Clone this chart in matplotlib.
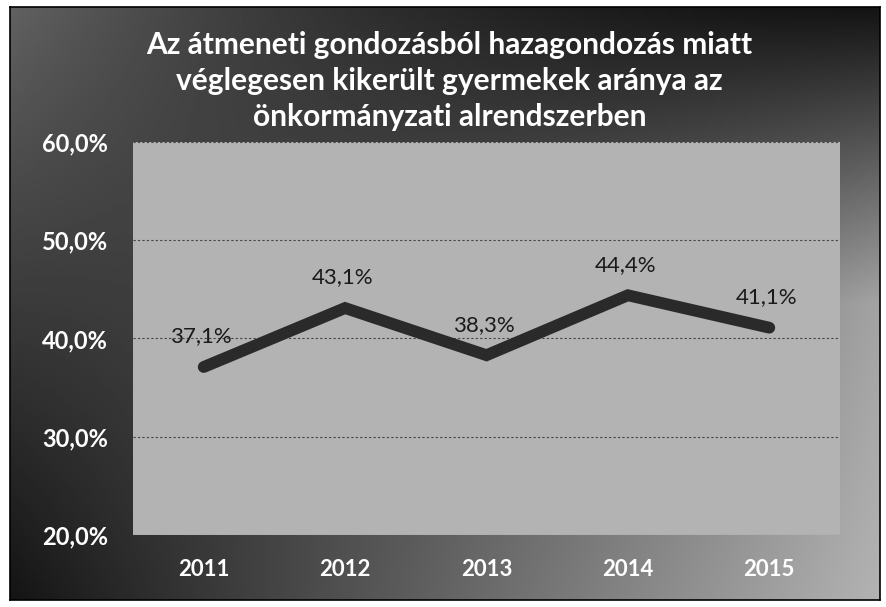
import numpy as np
import matplotlib
matplotlib.use("Agg")
import matplotlib.pyplot as plt

plt.rcParams['font.family'] = ['Lato', 'DejaVu Sans']

years = ['2011', '2012', '2013', '2014', '2015']
ratios = [37.1, 43.1, 38.3, 44.4, 41.1]
yticks = [20, 30, 40, 50, 60]
title = ('Az átmeneti gondozásból hazagondozás miatt\n'
         'véglegesen kikerült gyermekek aránya az\n'
         'önkormányzati alrendszerben')

fig = plt.figure(figsize=(8.87, 6.07), dpi=100)

# dark gradient background of the chart area
bg = fig.add_axes([10/887, 7/607, 870/887, 593/607])
u, v = np.meshgrid(np.linspace(0, 1, 300), np.linspace(0, 1, 200))
shade = 0.08 + 0.62*u*v + 0.3*(1-v)*(1-u)**2 + 0.25*u**2*(1-abs(2*v-1))
bg.imshow(shade, cmap='gray', vmin=0, vmax=1, aspect='auto', extent=[0, 1, 0, 1])
bg.set_xticks([])
bg.set_yticks([])
for s in bg.spines.values():
    s.set_color('black')
    s.set_linewidth(1.2)

ax = fig.add_axes([133/887, 72/607, 707/887, 393/607])
ax.set_facecolor('#b3b3b3')
x = np.arange(len(years))
ax.plot(x, ratios, color='#2a2a2a', lw=8.5, solid_capstyle='round', solid_joinstyle='miter', zorder=3)
for xi, r in zip(x, ratios):
    ax.annotate(f'{r:.1f}%'.replace('.', ','), (xi, r), xytext=(-2, 22), textcoords='offset points',
                ha='center', va='center', fontsize=16, color='#1a1a1a')
ax.set_xlim(-0.5, len(years) - 0.5)
ax.set_ylim(20, 60)
ax.set_yticks(yticks)
ax.set_yticklabels([f'{t},0%' for t in yticks], color='white', fontsize=17, fontweight='bold')
ax.set_xticks(x)
ax.set_xticklabels(years, color='white', fontsize=16, fontweight='bold')
ax.tick_params(length=0)
ax.tick_params(axis='y', pad=18)
ax.tick_params(axis='x', pad=17)
ax.grid(axis='y', color='#444444', ls=(0, (2, 2)), lw=0.8)
for s in ax.spines.values():
    s.set_visible(False)

fig.text(0.507, 1 - 81/607, title, ha='center', va='center', color='white', fontsize=21.5,
         fontweight='bold', linespacing=1.36)

fig.savefig('out.png', dpi=100)
